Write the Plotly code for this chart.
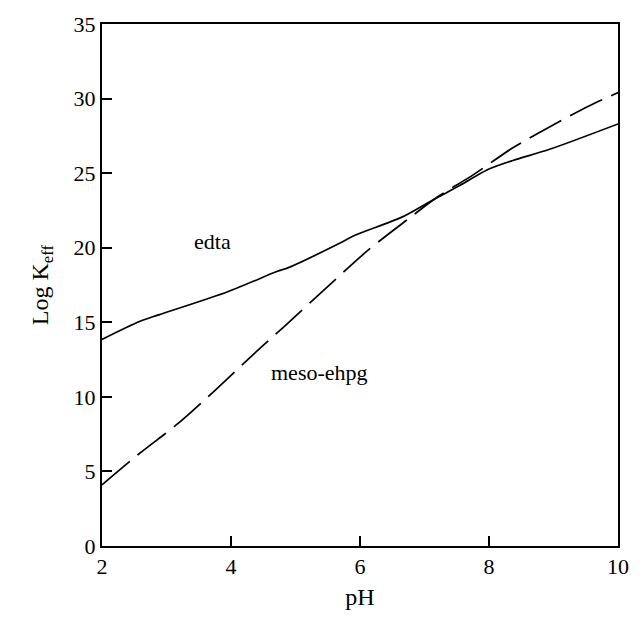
import plotly.graph_objects as go

# edta (solid)
ph_edta = [2.0, 2.58, 2.88, 3.95, 4.71, 4.91, 5.73, 5.93, 6.65, 7.15, 7.56, 7.96, 8.37, 8.94, 10.0]
logk_edta = [13.85, 15.05, 15.5, 17.05, 18.4, 18.7, 20.4, 20.85, 22.05, 23.25, 24.2, 25.2, 25.85, 26.6, 28.3]

# meso-ehpg (dashed)
ph_ehpg = [2.0, 2.58, 3.19, 3.77, 4.36, 4.82, 5.55, 6.13, 6.74, 7.2, 7.76, 8.37, 8.98, 9.55, 10.0]
logk_ehpg = [4.1, 6.2, 8.25, 10.5, 12.9, 14.7, 17.6, 19.85, 21.9, 23.4, 24.9, 26.7, 28.2, 29.5, 30.4]

x_ticks = [2, 4, 6, 8, 10]
y_ticks = [0, 5, 10, 15, 20, 25, 30, 35]

labels = ["edta", "meso-ehpg"]
label_x = [3.72, 5.37]
label_y = [20.4, 11.6]

serif = "Liberation Serif, Times New Roman, serif"

fig = go.Figure()
fig.add_trace(go.Scatter(x=ph_edta, y=logk_edta, mode="lines",
                         line=dict(color="black", width=1.7, shape="spline", smoothing=0.8),
                         showlegend=False))
fig.add_trace(go.Scatter(x=ph_ehpg, y=logk_ehpg, mode="lines",
                         line=dict(color="black", width=1.7, dash="36px,10px", shape="spline", smoothing=0.8),
                         showlegend=False))

for t, xx, yy in zip(labels, label_x, label_y):
    fig.add_annotation(x=xx, y=yy, text=t, showarrow=False,
                       font=dict(family=serif, size=22, color="black"))

fig.update_layout(
    width=641, height=619,
    margin=dict(l=102, r=14, t=21, b=73),
    paper_bgcolor="white", plot_bgcolor="white",
    font=dict(family=serif, color="black"),
)
fig.update_xaxes(range=[2, 10], tickvals=x_ticks, ticks="inside", ticklen=10, tickwidth=1.5,
                 tickcolor="black", showline=True, linecolor="black", linewidth=2, mirror=True,
                 showgrid=False, zeroline=False, tickfont=dict(family=serif, size=22),
                 title=dict(text="pH", font=dict(family=serif, size=24), standoff=10))
fig.update_yaxes(range=[0, 35], tickvals=y_ticks, ticks="inside", ticklen=10, tickwidth=1.5,
                 tickcolor="black", showline=True, linecolor="black", linewidth=2, mirror=True,
                 showgrid=False, zeroline=False, tickfont=dict(family=serif, size=22),
                 title=dict(text="Log K<sub>eff</sub>", font=dict(family=serif, size=24), standoff=18))

fig.write_html("out.html")
